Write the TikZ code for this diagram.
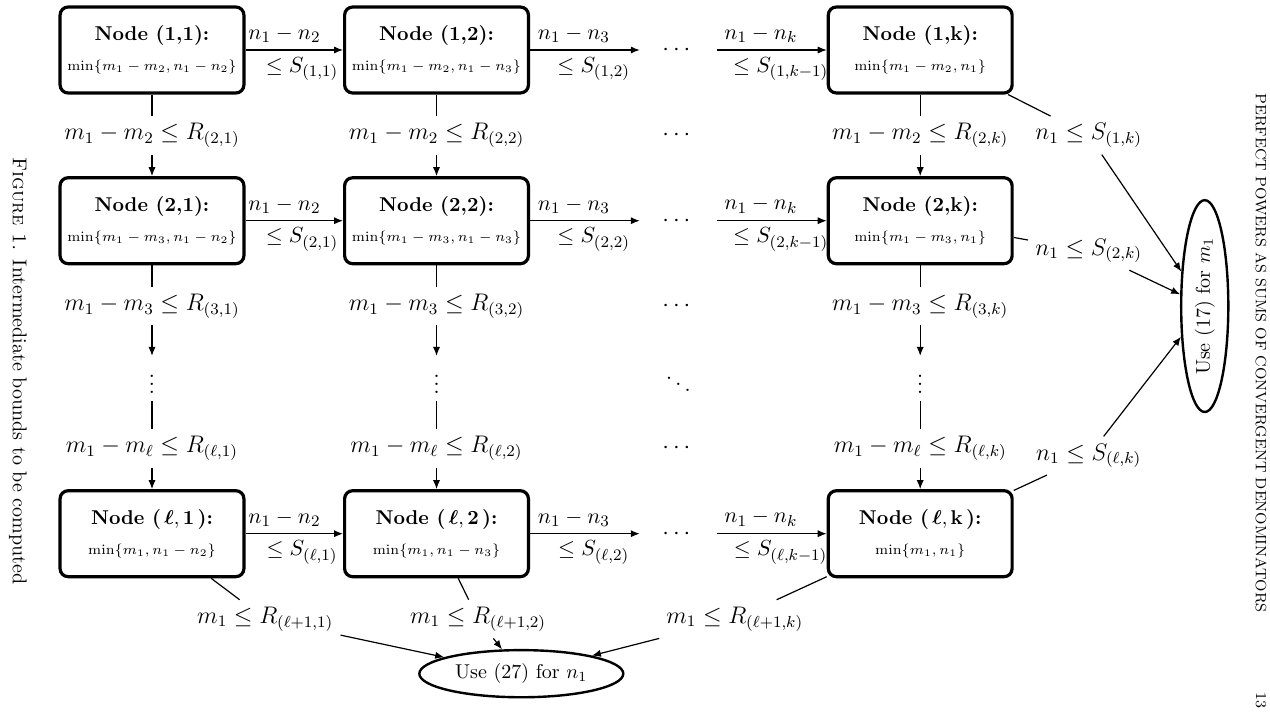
\documentclass[tikz,border=0pt]{standalone}
\usepackage{amsmath,amssymb}
\usetikzlibrary{shapes.geometric,arrows.meta}
\begin{document}
\begin{tikzpicture}[node distance={50mm}, semithick, >={Latex[length=4.5pt,width=3.6pt]},
    main/.style = {draw, ultra thick, rounded corners=4pt, minimum width=32.3mm, minimum height=15.1mm, align=center},
    lab/.style = {font=\large},
    hlab/.style = {font=\fontsize{10.8pt}{13pt}\selectfont},
    etc/.style = {font=\large, inner xsep=11pt},
    goal/.style = {draw, very thick, ellipse, inner xsep=3pt}]
    \useasboundingbox (-76pt,25pt) rectangle (559pt,-334pt);
    % boxes
    \node[main] (11) {\textbf{Node (1,1):}\\[3pt] {\scriptsize $\min\{m_1-m_2,n_1-n_2\}$}};
    \node[main] (12) [right of=11] {\textbf{Node (1,2):}\\[3pt] {\scriptsize $\min\{m_1-m_2,n_1-n_3\}$}};
    \node[main] (1k) [node distance=85mm, right of=12] {\textbf{Node (1,k):}\\[3pt] {\scriptsize $\min\{m_1-m_2,n_1\}$}};
    \node[main] (21) [node distance=30mm, below of=11] {\textbf{Node (2,1):}\\[3pt] {\scriptsize $\min\{m_1-m_3,n_1-n_2\}$}};
    \node[main] (22) [right of=21] {\textbf{Node (2,2):}\\[3pt] {\scriptsize $\min\{m_1-m_3,n_1-n_3\}$}};
    \node[main] (2k) [node distance=85mm, right of=22] {\textbf{Node (2,k):}\\[3pt] {\scriptsize $\min\{m_1-m_3,n_1\}$}};
    \node[main] (l1) [node distance=55mm, below of=21] {\textbf{Node (\,$\boldsymbol{\ell},\mathbf{1}$\,):}\\[3pt] {\scriptsize $\min\{m_1,n_1-n_2\}$}};
    \node[main] (l2) [right of=l1] {\textbf{Node (\,$\boldsymbol{\ell},\mathbf{2}$\,):}\\[3pt] {\scriptsize $\min\{m_1,n_1-n_3\}$}};
    \node[main] (lk) [node distance=85mm, right of=l2] {\textbf{Node (\,$\boldsymbol{\ell},\mathbf{k}$\,):}\\[3pt] {\scriptsize $\min\{m_1,n_1\}$}};
    % column labels
    \node[lab] (r21) [node distance=15mm, below of=11] {$m_1-m_2\le R_{(2,1)}$};
    \node[lab] (r31) [node distance=15mm, below of=21] {$m_1-m_3\le R_{(3,1)}$};
    \node[lab] (v1) [node distance=27.7mm, below of=21] {$\vdots$};
    \node[lab] (rl1) [node distance=15mm, above of=l1] {$m_1-m_\ell\le R_{(\ell,1)}$};
    \node[lab] (r22) [node distance=15mm, below of=12] {$m_1-m_2\le R_{(2,2)}$};
    \node[lab] (r32) [node distance=15mm, below of=22] {$m_1-m_3\le R_{(3,2)}$};
    \node[lab] (v2) [node distance=27.7mm, below of=22] {$\vdots$};
    \node[lab] (rl2) [node distance=15mm, above of=l2] {$m_1-m_\ell\le R_{(\ell,2)}$};
    \node[lab] (r2k) [node distance=15mm, below of=1k] {$m_1-m_2\le R_{(2,k)}$};
    \node[lab] (r3k) [node distance=15mm, below of=2k] {$m_1-m_3\le R_{(3,k)}$};
    \node[lab] (vk) [node distance=27.7mm, below of=2k] {$\vdots$};
    \node[lab] (rlk) [node distance=15mm, above of=lk] {$m_1-m_\ell\le R_{(\ell,k)}$};
    % dots between columns 2 and k
    \node[etc] (d1) [node distance=42.5mm, right of=12] {$\cdots$};
    \node[lab] (dr2) [node distance=42.5mm, right of=r22] {$\cdots$};
    \node[etc] (d2) [node distance=42.5mm, right of=22] {$\cdots$};
    \node[lab] (dr3) [node distance=42.5mm, right of=r32] {$\cdots$};
    \node[lab] (dd) [node distance=42.5mm, right of=v2] {$\ddots$};
    \node[lab] (drl) [node distance=42.5mm, right of=rl2] {$\cdots$};
    \node[etc] (dl) [node distance=42.5mm, right of=l2] {$\cdots$};
    % final bounds
    \node[lab] (s1k) [node distance=29.6mm, right of=r2k] {$n_1\le S_{(1,k)}$};
    \node[lab] (s2k) [node distance=29.6mm, right of=2k, yshift=-5.3mm] {$n_1\le S_{(2,k)}$};
    \node[lab] (slk) [node distance=29.6mm, right of=lk, yshift=13.7mm] {$n_1\le S_{(\ell,k)}$};
    \node (e17) [node distance=50mm, right of=r3k, goal, rotate=90] {Use (17) for $m_1$};
    \node[lab] (rl11) [node distance=15mm, below of=l1, xshift=19.9mm] {$m_1\le R_{(\ell+1,1)}$};
    \node[lab] (rl12) [node distance=15mm, below of=l2, xshift=7.3mm] {$m_1\le R_{(\ell+1,2)}$};
    \node[lab] (rl1k) [node distance=15mm, below of=lk, xshift=-32.6mm] {$m_1\le R_{(\ell+1,k)}$};
    \node (e27) [node distance=24.6mm, below of=l2, xshift=14.9mm, goal] {Use (27) for $n_1$};
    % page text
    \node[rotate=-90] (cap) at (-67pt,-160.5pt) {\textsc{Figure 1.} Intermediate bounds to be computed};
    \node[rotate=-90, font=\fontsize{7.5pt}{9pt}\selectfont] (head) at (554.5pt,-151.5pt) {PERFECT POWERS AS SUMS OF CONVERGENT DENOMINATORS};
    \node[rotate=-90, font=\fontsize{7.5pt}{9pt}\selectfont] (page) at (554.5pt,-325pt) {13};
    % rows
    \draw[->] (11) to node[hlab, above, pos=.4] {$n_1-n_2$} node[hlab, below, pos=.58] {$\le S_{(1,1)}$} (12);
    \draw[->] (12) to node[hlab, above, pos=.4] {$n_1-n_3$} node[hlab, below, pos=.58] {$\le S_{(1,2)}$} (d1);
    \draw[->] (d1) to node[hlab, above, pos=.4] {$n_1-n_k$} node[hlab, below, pos=.58] {$\le S_{(1,k-1)}$} (1k);
    \draw[->] (21) to node[hlab, above, pos=.4] {$n_1-n_2$} node[hlab, below, pos=.58] {$\le S_{(2,1)}$} (22);
    \draw[->] (22) to node[hlab, above, pos=.4] {$n_1-n_3$} node[hlab, below, pos=.58] {$\le S_{(2,2)}$} (d2);
    \draw[->] (d2) to node[hlab, above, pos=.4] {$n_1-n_k$} node[hlab, below, pos=.58] {$\le S_{(2,k-1)}$} (2k);
    \draw[->] (l1) to node[hlab, above, pos=.4] {$n_1-n_2$} node[hlab, below, pos=.58] {$\le S_{(\ell,1)}$} (l2);
    \draw[->] (l2) to node[hlab, above, pos=.4] {$n_1-n_3$} node[hlab, below, pos=.58] {$\le S_{(\ell,2)}$} (dl);
    \draw[->] (dl) to node[hlab, above, pos=.4] {$n_1-n_k$} node[hlab, below, pos=.58] {$\le S_{(\ell,k-1)}$} (lk);
    % columns
    \draw (11) to (r21); \draw[->] (r21) to (21);
    \draw (21) to (r31); \draw[->] (r31) to (v1);
    \draw (v1) to (rl1); \draw[->] (rl1) to (l1);
    \draw (12) to (r22); \draw[->] (r22) to (22);
    \draw (22) to (r32); \draw[->] (r32) to (v2);
    \draw (v2) to (rl2); \draw[->] (rl2) to (l2);
    \draw (1k) to (r2k); \draw[->] (r2k) to (2k);
    \draw (2k) to (r3k); \draw[->] (r3k) to (vk);
    \draw (vk) to (rlk); \draw[->] (rlk) to (lk);
    % to the ellipses
    \draw (1k) to (s1k); \draw[->] (s1k) to (e17);
    \draw (2k) to (s2k); \draw[->] (s2k) to (e17);
    \draw (lk) to (slk); \draw[->] (slk) to (e17);
    \draw (l1) to (rl11); \draw[->] (rl11) to (e27);
    \draw (l2) to (rl12); \draw[->] (rl12) to (e27);
    \draw (lk) to (rl1k); \draw[->] (rl1k) to (e27);
\end{tikzpicture}
\end{document}
